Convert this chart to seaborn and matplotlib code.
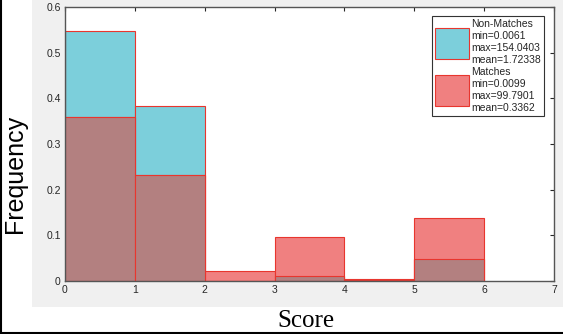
import numpy as np
import matplotlib
matplotlib.use("Agg")
import matplotlib.pyplot as plt
import seaborn as sns
from matplotlib.patches import Patch, Rectangle
from matplotlib.lines import Line2D

bin_edges = [0, 1, 2, 3, 4, 5, 6]
non_matches = [0.547, 0.383, 0.001, 0.010, 0.002, 0.048]
matches = [0.360, 0.233, 0.022, 0.097, 0.004, 0.138]
nm_label = "Non-Matches\nmin=0.0061\nmax=154.0403\nmean=1.72338"
m_label = "Matches\nmin=0.0099\nmax=99.7901\nmean=0.3362"

centers = [(bin_edges[i] + bin_edges[i + 1]) / 2 for i in range(len(bin_edges) - 1)]
overlap = list(np.minimum(non_matches, matches))

sns.set_style("white")
plt.rcParams['font.family'] = ['Liberation Sans', 'DejaVu Sans']

W, H = 563, 334
fig = plt.figure(figsize=(W / 100, H / 100), dpi=100, facecolor="white")
bg = fig.add_axes([32 / W, 1 - 307 / H, (W - 32) / W, 307 / H], zorder=0)
bg.set_facecolor("#f0f0f0")
bg.set_xticks([])
bg.set_yticks([])
for s in bg.spines.values():
    s.set_visible(False)

ax = fig.add_axes([65 / W, 1 - 281 / H, (554 - 65) / W, (281 - 7) / H], zorder=2)
ax.set_facecolor("white")

cyan = "#7ccfdb"
red = "#f08080"
dark = "#b38080"
edge = "#e8362e"

sns.histplot(x=centers, weights=non_matches, bins=bin_edges, color=cyan, alpha=1,
             edgecolor=edge, linewidth=0.8, ax=ax)
sns.histplot(x=centers, weights=matches, bins=bin_edges, color=red, alpha=1,
             edgecolor=edge, linewidth=0.8, ax=ax)
sns.histplot(x=centers, weights=overlap, bins=bin_edges, color=dark, alpha=1,
             edgecolor=edge, linewidth=0.8, ax=ax)

ax.set_xlim(0, 7)
ax.set_ylim(0, 0.6)
ax.set_xticks(range(0, 8))
ax.set_yticks([0, 0.1, 0.2, 0.3, 0.4, 0.5, 0.6])
ax.set_yticklabels(["0", "0.1", "0.2", "0.3", "0.4", "0.5", "0.6"])
ax.tick_params(direction="in", length=3, width=0.8, top=True, right=True,
               labelsize=7.5, colors="#262626", pad=3)
for s in ax.spines.values():
    s.set_color("#555555")
    s.set_linewidth(1.0)
ax.set_xlabel("")
ax.set_ylabel("")

fig.text(15 / W, 1 - 174 / H, "Frequency", rotation=90, ha="center", va="center",
         fontsize=18, family=["Liberation Sans"], color="black")
fig.text(306 / W, 1 - 321 / H, "Score", ha="center", va="center",
         fontsize=18, family=["Liberation Serif"], color="black")

handles = [Patch(facecolor=cyan, edgecolor=edge, linewidth=0.8),
           Patch(facecolor=red, edgecolor=edge, linewidth=0.8)]
leg = ax.legend(handles, [nm_label, m_label], loc="upper right",
                bbox_to_anchor=(544 / W, 1 - 16 / H), bbox_transform=fig.transFigure,
                fontsize=7.5, handlelength=3.3, handleheight=4.2, handletextpad=0.2,
                labelspacing=0.15, borderpad=0.3, borderaxespad=0, frameon=True,
                fancybox=False, framealpha=1, edgecolor="#333333")
leg.get_frame().set_linewidth(0.8)
for t in leg.get_texts():
    t.set_linespacing(1.25)
    t.set_color("#262626")

# outer border (left and bottom)
fig.add_artist(Line2D([1 / W, 1 / W], [0, 1], transform=fig.transFigure, color="black", lw=1.5))
fig.add_artist(Line2D([0, 1], [1.5 / H, 1.5 / H], transform=fig.transFigure, color="black", lw=1.5))

fig.savefig("out.png", dpi=100, facecolor="white")
